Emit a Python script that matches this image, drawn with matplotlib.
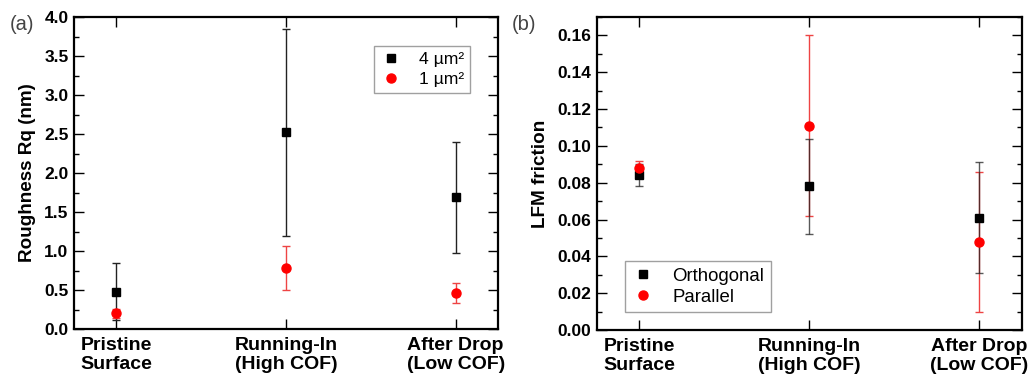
import matplotlib
matplotlib.use("Agg")
import matplotlib.pyplot as plt
from matplotlib.lines import Line2D
from matplotlib.ticker import MultipleLocator

plt.rcParams['font.family'] = ['Liberation Sans', 'DejaVu Sans']

categories = ["Pristine\nSurface", "Running-In\n(High COF)", "After Drop\n(Low COF)"]

# Panel (a): roughness
rough_4um = [0.48, 2.52, 1.69]
rough_4um_err = [0.37, 1.33, 0.71]
rough_1um = [0.20, 0.78, 0.46]
rough_1um_err = [0.06, 0.28, 0.13]

# Panel (b): LFM friction
fric_orth = [0.084, 0.078, 0.061]
fric_orth_err = [0.006, 0.026, 0.030]
fric_par = [0.088, 0.111, 0.048]
fric_par_err = [0.004, 0.049, 0.038]

RED = '#ff0000'
REDBAR = '#ee4444'

fig = plt.figure(figsize=(10.31, 3.78), dpi=100)
axa = fig.add_axes([0.0718, 0.1296, 0.4113, 0.8254])
axb = fig.add_axes([0.579, 0.127, 0.412, 0.828])

x = list(range(len(categories)))


def style(ax, ymax, major, minor):
    ax.set_xlim(-0.25, 2.25)
    ax.set_ylim(0, ymax)
    ax.set_xticks(x)
    ax.set_xticklabels(categories, fontweight='bold', fontsize=14, linespacing=1.1)
    ax.yaxis.set_major_locator(MultipleLocator(major))
    ax.yaxis.set_minor_locator(MultipleLocator(minor))
    ax.tick_params(axis='both', which='major', direction='in', length=7, width=1.0,
                   top=True, right=True, labelsize=12.5)
    ax.tick_params(axis='both', which='minor', direction='in', length=3.5, width=1.0,
                   right=True, left=True)
    ax.tick_params(axis='x', which='minor', bottom=False, top=False)
    ax.tick_params(axis='x', pad=6, labelsize=14)
    ax.tick_params(axis='y', pad=4)
    for lab in ax.get_yticklabels():
        lab.set_fontweight('bold')
    for s in ax.spines.values():
        s.set_linewidth(1.6)


# ---- Panel (a)
axa.errorbar(x, rough_4um, yerr=rough_4um_err, fmt='none', ecolor='#222222',
             elinewidth=1.0, capsize=3, capthick=1.0, zorder=2)
axa.errorbar(x, rough_1um, yerr=rough_1um_err, fmt='none', ecolor=REDBAR,
             elinewidth=1.0, capsize=3, capthick=1.0, zorder=2)
axa.plot(x, rough_4um, 's', color='black', markersize=5.2, linestyle='none', zorder=3)
axa.plot(x, rough_1um, 'o', color=RED, markersize=6.5, linestyle='none', zorder=4)
style(axa, 4.0, 0.5, 0.25)
axa.yaxis.set_major_formatter(matplotlib.ticker.FormatStrFormatter('%.1f'))
for lab in axa.get_yticklabels():
    lab.set_fontweight('bold')
axa.set_ylabel("Roughness Rq (nm)", fontweight='bold', fontsize=13.6, labelpad=6)

h_a = [Line2D([], [], marker='s', color='black', linestyle='none', markersize=5.2),
       Line2D([], [], marker='o', color=RED, linestyle='none', markersize=6.5)]
lega = axa.legend(h_a, ["4 µm²", "1 µm²"], loc='upper right', bbox_to_anchor=(0.934, 0.907),
                  fontsize=12.6, frameon=True, fancybox=False, borderpad=0.35,
                  handlelength=1.2, handletextpad=1.0, labelspacing=0.25, borderaxespad=0)
lega.get_frame().set_edgecolor('#888888')
lega.get_frame().set_linewidth(1.0)

# ---- Panel (b)
axb.errorbar(x, fric_par, yerr=fric_par_err, fmt='none', ecolor=REDBAR,
             elinewidth=1.0, capsize=3, capthick=1.0, zorder=2)
axb.errorbar(x, fric_orth, yerr=fric_orth_err, fmt='none', ecolor='#222222',
             elinewidth=1.0, capsize=3, capthick=1.0, zorder=2, alpha=0.75)
axb.plot(x, fric_orth, 's', color='black', markersize=5.2, linestyle='none', zorder=3)
axb.plot(x, fric_par, 'o', color=RED, markersize=6.5, linestyle='none', zorder=4)
style(axb, 0.17, 0.02, 0.01)
axb.yaxis.set_major_formatter(matplotlib.ticker.FormatStrFormatter('%.2f'))
for lab in axb.get_yticklabels():
    lab.set_fontweight('bold')
axb.set_ylabel("LFM friction", fontweight='bold', fontsize=13.6, labelpad=6)

h_b = [Line2D([], [], marker='s', color='black', linestyle='none', markersize=5.2),
       Line2D([], [], marker='o', color=RED, linestyle='none', markersize=6.5)]
legb = axb.legend(h_b, ["Orthogonal", "Parallel"], loc='lower left', bbox_to_anchor=(0.066, 0.057),
                  fontsize=13.4, frameon=True, fancybox=False, borderpad=0.35,
                  handlelength=1.2, handletextpad=1.0, labelspacing=0.2, borderaxespad=0)
legb.get_frame().set_edgecolor('#888888')
legb.get_frame().set_linewidth(1.0)

fig.text(0.0095, 0.935, "(a)", fontsize=14.5, color='#444444', va='center', ha='left')
fig.text(0.4965, 0.935, "(b)", fontsize=14.5, color='#444444', va='center', ha='left')

fig.savefig("out.png", dpi=100)
